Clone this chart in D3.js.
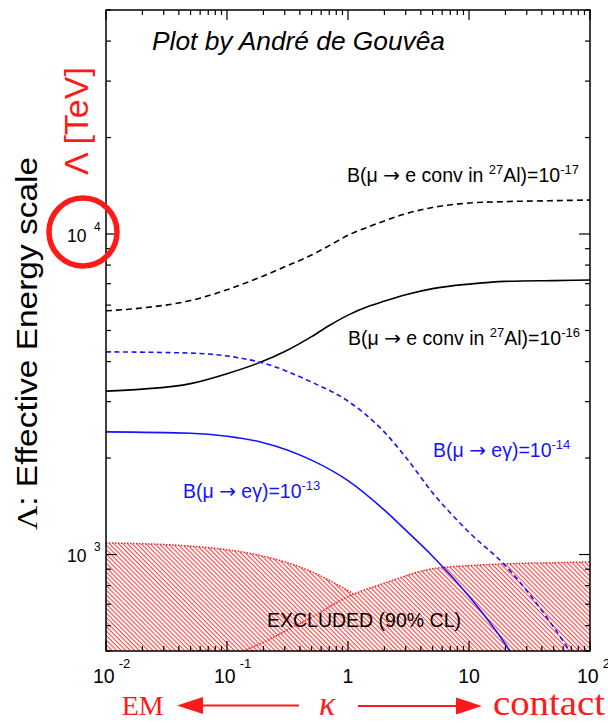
<!DOCTYPE html>
<html lang="en">
<head>
<meta charset="UTF-8">
<title>Effective energy scale vs kappa</title>
<script src="https://d3js.org/d3.v7.min.js"></script>
<style>
  body { margin: 0; background: #fff; }
  svg { display: block; font-family: "Liberation Sans", Arial, Helvetica, sans-serif; }
</style>
</head>
<body>
<svg width="608" height="725"></svg>
<script>
// kappa grid shared by the two mu -> e conversion curves
const kappa = [0.01, 0.02, 0.05, 0.1, 0.2, 0.3, 0.5, 0.7, 1, 1.5, 2, 3, 5, 10, 20, 50, 100];
const convAl17 = [5760, 5880, 6200, 6700, 7400, 7900, 8600, 9200, 9911, 10550, 10990, 11568, 12104, 12492, 12620, 12710, 12765];
const convAl16 = [3235, 3281, 3414, 3667, 4013, 4300, 4786, 5183, 5585, 5963, 6176, 6464, 6755, 6979, 7116, 7157, 7183];

// mu -> e gamma curves (they leave the frame at the bottom)
const kappaMeg14 = [0.01, 0.05, 0.1, 0.2, 0.5, 1, 2, 3, 5, 10, 20, 50, 68];
const meg14 = [4289, 4250, 4163, 3955, 3451, 3010, 2409, 2012, 1559, 1174, 923, 594, 500];
const kappaMeg13 = [0.01, 0.05, 0.1, 0.2, 0.5, 1, 2, 3, 5, 10, 20, 21.8];
const meg13 = [2414, 2391, 2340, 2233, 1970, 1700, 1375, 1191, 988, 741, 525, 500];

// excluded regions (90% CL)
const kappaExclMeg = [0.01, 0.05, 0.1, 0.2, 0.5, 1, 1.1, 2, 3, 3.7];
const exclMeg = [1087, 1062, 1035, 988, 884, 771, 755, 619, 536, 500];
const kappaExclConv = [0.1356, 0.2, 0.3, 0.5, 1, 2, 5, 10, 20, 50, 100];
const exclConv = [500, 532, 576, 637, 739, 814, 903, 923, 935, 943, 948];

// tick labels
const xTickVals = [0.01, 0.1, 1, 10, 100];
const xTickBase = ["10", "10", "1", "10", "10"];
const xTickExp = ["-2", "-1", "", "", "2"];
const yTickVals = [1000, 10000];
const yTickExp = ["3", "4"];

const svg = d3.select("svg"),
    margin = {top: 10, right: 18, bottom: 74, left: 106},
    width = 608 - margin.left - margin.right,
    height = 725 - margin.top - margin.bottom,
    g = svg.append("g").attr("transform", "translate(" + margin.left + "," + margin.top + ")");

const x = d3.scaleLog().domain([0.01, 100]).range([0, width]);
const y = d3.scaleLog().domain([500, 50000]).range([height, 0]);

const zip = (ks, vs) => ks.map((k, i) => [k, vs[i]]);
const red = "#ff1a1a";

const area = d3.area()
    .x(d => x(d[0])).y0(height).y1(d => y(d[1]))
    .curve(d3.curveMonotoneX);
const line = d3.line()
    .x(d => x(d[0])).y(d => y(d[1]))
    .curve(d3.curveMonotoneX);

const meg = zip(kappaExclMeg, exclMeg);
const conv = zip(kappaExclConv, exclConv);

const defs = svg.append("defs");
defs.append("clipPath").attr("id", "plot-clip")
    .append("rect").attr("width", width).attr("height", height);
// union of both excluded regions, so the hatching is not drawn twice
const exclClip = defs.append("clipPath").attr("id", "excl-clip");
exclClip.append("path").datum(meg).attr("d", area);
exclClip.append("path").datum(conv).attr("d", area);

const hatch = defs.append("pattern")
    .attr("id", "hatch")
    .attr("patternUnits", "userSpaceOnUse")
    .attr("width", 10).attr("height", 3.2)
    .attr("patternTransform", "rotate(45)");
hatch.append("line")
    .attr("x1", 0).attr("x2", 10).attr("y1", 0.6).attr("y2", 0.6)
    .attr("stroke", red).attr("stroke-width", 0.9);

const plot = g.append("g").attr("clip-path", "url(#plot-clip)");

plot.append("rect").attr("width", width).attr("height", height)
    .attr("fill", "url(#hatch)").attr("clip-path", "url(#excl-clip)");
plot.append("path").datum(meg.filter(d => d[0] <= 1.1)).attr("d", line)
    .attr("fill", "none").attr("stroke", red).attr("stroke-width", 1.5).attr("stroke-dasharray", "1.5,1.5");
plot.append("path").datum(conv).attr("d", line)
    .attr("fill", "none").attr("stroke", red).attr("stroke-width", 1.5).attr("stroke-dasharray", "1.5,1.5");

const curves = [
  {data: zip(kappa, convAl17), color: "#000", dash: "6,4"},
  {data: zip(kappa, convAl16), color: "#000", dash: null},
  {data: zip(kappaMeg14, meg14), color: "#1414ff", dash: "5,3.5"},
  {data: zip(kappaMeg13, meg13), color: "#1414ff", dash: null}
];
curves.forEach(c => {
  plot.append("path").datum(c.data).attr("d", line)
      .attr("fill", "none")
      .attr("stroke", c.color)
      .attr("stroke-width", 1.6)
      .attr("stroke-dasharray", c.dash);
});

// frame and inward ticks on all sides
const isMajor = d => Math.abs(Math.log10(d) - Math.round(Math.log10(d))) < 1e-6;
const ticks = g.append("g").attr("stroke", "#000").attr("stroke-width", 1.2);
x.ticks().forEach(d => {
  const len = isMajor(d) ? 10 : 5;
  ticks.append("line").attr("x1", x(d)).attr("x2", x(d)).attr("y1", height).attr("y2", height - len);
  ticks.append("line").attr("x1", x(d)).attr("x2", x(d)).attr("y1", 0).attr("y2", len);
});
y.ticks().forEach(d => {
  const len = isMajor(d) ? 11 : 5;
  ticks.append("line").attr("y1", y(d)).attr("y2", y(d)).attr("x1", 0).attr("x2", len);
  ticks.append("line").attr("y1", y(d)).attr("y2", y(d)).attr("x1", width).attr("x2", width - len);
});
g.append("rect").attr("width", width).attr("height", height)
    .attr("fill", "none").attr("stroke", "#000").attr("stroke-width", 1.5);

xTickVals.forEach((v, i) => {
  const t = g.append("text").attr("y", height + 31.5).attr("font-size", 19.5).attr("fill", "#000");
  if (xTickExp[i]) {
    t.attr("x", x(v) - 13);
    t.append("tspan").text(xTickBase[i]);
    t.append("tspan").attr("dx", 4).attr("dy", -15).attr("font-size", 13).text(xTickExp[i]);
  } else {
    t.attr("x", x(v)).attr("text-anchor", "middle").text(xTickBase[i]);
  }
});

yTickVals.forEach((v, i) => {
  const t = g.append("text").attr("x", -39).attr("y", y(v) + 7.6).attr("font-size", 17.5);
  t.append("tspan").text("10");
  t.append("tspan").attr("x", -12).attr("dy", -11).attr("font-size", 12).text(yTickExp[i]);
});

// annotations
function label(x0, y0, parts, color, anchor) {
  const t = svg.append("text").attr("x", x0).attr("y", y0)
      .attr("font-size", 19.5).attr("fill", color).attr("text-anchor", anchor || "start");
  let shift = 0;
  parts.forEach(p => {
    const sup = p[1] === "sup";
    const dy = (sup ? -8 : 0) - shift;
    shift = sup ? -8 : 0;
    const s = t.append("tspan").attr("dy", dy).attr("font-size", sup ? 13 : null).text(p[0]);
    if (p[1] === "sym") s.attr("font-family", "'DejaVu Sans', sans-serif").attr("font-size", 20);
  });
  return t;
}
const arrow = ["\u2192", "sym"];
label(579, 181.7, [["B(\u03bc "], arrow, [" e conv in "], ["27", "sup"], ["Al)=10"], ["-17", "sup"]], "#000", "end");
label(580, 345, [["B(\u03bc "], arrow, [" e conv in "], ["27", "sup"], ["Al)=10"], ["-16", "sup"]], "#000", "end");
label(433, 456.7, [["B(\u03bc "], arrow, [" e\u03b3)=10"], ["-14", "sup"]], "#1414ff");
label(183, 498.3, [["B(\u03bc "], arrow, [" e\u03b3)=10"], ["-13", "sup"]], "#1414ff");
label(267, 626.7, [["EXCLUDED (90% CL)"]], "#000");

svg.append("text")
    .attr("x", 152).attr("y", 50)
    .attr("font-size", 25).attr("font-style", "italic")
    .attr("textLength", 293).attr("lengthAdjust", "spacingAndGlyphs")
    .text("Plot by Andr\u00e9 de Gouv\u00eaa");

// axis titles
const serif = "'Liberation Serif', 'Times New Roman', serif";
const yTitle = svg.append("text")
    .attr("transform", "translate(37,343.5) rotate(-90)")
    .attr("text-anchor", "middle").attr("font-size", 29)
    .attr("textLength", 373).attr("lengthAdjust", "spacingAndGlyphs");
yTitle.append("tspan").attr("font-family", serif).text("\u039b");
yTitle.append("tspan").text(": Effective Energy scale");

svg.append("text")
    .attr("transform", "translate(88,121) rotate(-90)")
    .attr("text-anchor", "middle").attr("font-size", 34).attr("fill", red)
    .text("\u039b [TeV]");

svg.append("circle")
    .attr("cx", 83).attr("cy", 232).attr("r", 34)
    .attr("fill", "none").attr("stroke", red).attr("stroke-width", 5.5);

// kappa arrow label
svg.append("text").attr("x", 121.7).attr("y", 715).attr("font-family", serif)
    .attr("font-size", 28).attr("fill", red).text("EM");
svg.append("text").attr("x", 319).attr("y", 715).attr("font-family", serif)
    .attr("font-size", 34).attr("font-style", "italic").attr("fill", red).text("\u03ba");
svg.append("text").attr("x", 493).attr("y", 715).attr("font-family", serif)
    .attr("font-size", 35).attr("fill", red)
    .attr("textLength", 112).attr("lengthAdjust", "spacingAndGlyphs").text("contact");

svg.append("line").attr("x1", 200).attr("x2", 299).attr("y1", 705.5).attr("y2", 705.5)
    .attr("stroke", red).attr("stroke-width", 2);
svg.append("path").attr("d", "M177,705.5L203,697L203,714Z").attr("fill", red);
svg.append("line").attr("x1", 358).attr("x2", 459).attr("y1", 706).attr("y2", 706)
    .attr("stroke", red).attr("stroke-width", 2);
svg.append("path").attr("d", "M482,706L456,697.5L456,714.5Z").attr("fill", red);
</script>
</body>
</html>
